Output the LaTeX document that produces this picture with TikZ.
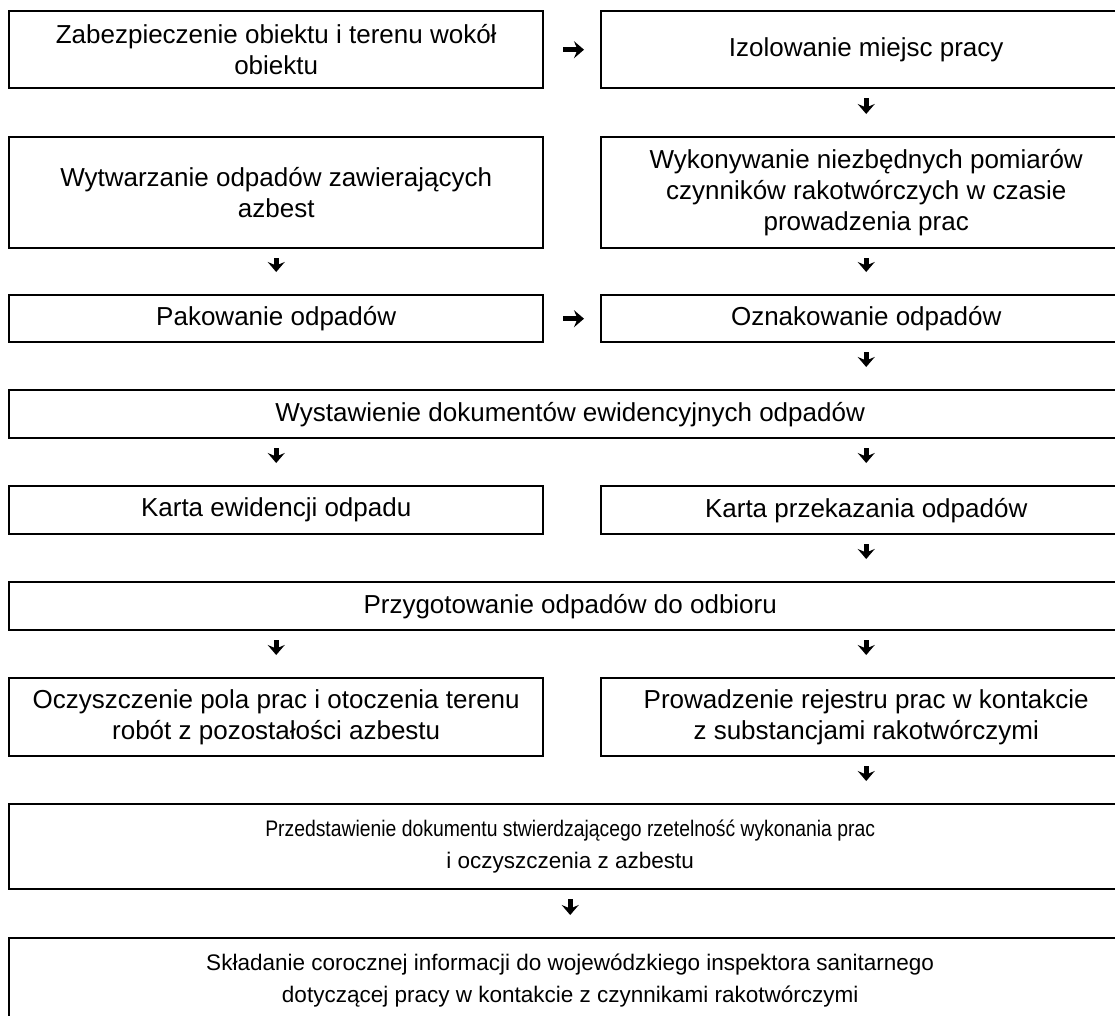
\documentclass[tikz,border=0pt]{standalone}
\usepackage{fontspec}
\usepackage{graphicx}
\setmainfont{Liberation Sans}
\usetikzlibrary{arrows.meta,calc}
\begin{document}
\begin{tikzpicture}[x=1pt,y=-1pt,
  box/.style={draw, line width=2.4pt, inner sep=0pt, align=center, anchor=north west,
    font=\fontsize{26}{31}\selectfont},
  smallbox/.style={box, font=\fontsize{22.5}{32}\selectfont},
  arr/.style={line width=5pt, -{Stealth[length=10pt 0 0,width=17pt 0 0,inset=3.5pt 0]}},
  dn/.style={arr, shorten <=9pt, shorten >=22pt},
  rt/.style={arr, shorten <=19pt, shorten >=16pt}]
\useasboundingbox (0,0) rectangle (1115,1015);
% row 1
\node[box, minimum width=534pt, minimum height=77pt] (b1) at (8,10)
  {Zabezpieczenie obiektu i terenu wokół\\obiektu};
\node[box, minimum width=530pt, minimum height=77pt] (b2) at (600,10)
  {Izolowanie miejsc pracy};
% row 2
\node[box, minimum width=534pt, minimum height=111pt] (b3) at (8,136)
  {Wytwarzanie odpadów zawierających\\azbest};
\node[box, minimum width=530pt, minimum height=111pt] (b4) at (600,136)
  {Wykonywanie niezbędnych pomiarów\\czynników rakotwórczych w czasie\\prowadzenia prac};
% row 3
\node[box, minimum width=534pt, minimum height=47pt] (b5) at (8,294)
  {Pakowanie odpadów};
\node[box, minimum width=530pt, minimum height=47pt] (b6) at (600,294)
  {Oznakowanie odpadów};
% row 4
\node[box, minimum width=1122pt, minimum height=48pt] (b7) at (8,389)
  {Wystawienie dokumentów ewidencyjnych odpadów};
% row 5
\node[box, minimum width=534pt, minimum height=48pt] (b8) at (8,485)
  {Karta ewidencji odpadu};
\node[box, minimum width=530pt, minimum height=48pt] (b9) at (600,485)
  {Karta przekazania odpadów};
% row 6
\node[box, minimum width=1122pt, minimum height=48pt] (b10) at (8,581)
  {Przygotowanie odpadów do odbioru};
% row 7
\node[box, minimum width=534pt, minimum height=78pt] (b11) at (8,677)
  {Oczyszczenie pola prac i otoczenia terenu\\robót z pozostałości azbestu};
\node[box, minimum width=530pt, minimum height=78pt] (b12) at (600,677)
  {Prowadzenie rejestru prac w kontakcie\\z substancjami rakotwórczymi};
% row 8
\node[smallbox, minimum width=1122pt, minimum height=85pt] (b13) at (8,803)
  {\scalebox{0.86}[1]{Przedstawienie dokumentu stwierdzającego rzetelność wykonania prac}\\i oczyszczenia z azbestu};
% row 9 (cut off by the lower edge)
\node[smallbox, minimum width=1122pt, minimum height=84pt] (b14) at (8,937)
  {Składanie corocznej informacji do wojewódzkiego inspektora sanitarnego\\dotyczącej pracy w kontakcie z czynnikami rakotwórczymi};
% arrows
\draw[rt] (b1.east) -- (b2.west);
\draw[rt] (b5.east) -- (b6.west);
\draw[dn] (b2.south) -- (b4.north);
\draw[dn] (b3.south) -- (b5.north);
\draw[dn] (b4.south) -- (b6.north);
\draw[dn] (b6.south) -- (b6.south |- b7.north);
\draw[dn] (b8.north |- b7.south) -- (b8.north);
\draw[dn] (b9.north |- b7.south) -- (b9.north);
\draw[dn] (b9.south) -- (b9.south |- b10.north);
\draw[dn] (b11.north |- b10.south) -- (b11.north);
\draw[dn] (b12.north |- b10.south) -- (b12.north);
\draw[dn] (b12.south) -- (b12.south |- b13.north);
\draw[dn] (b13.south) -- (b14.north);
\end{tikzpicture}
\end{document}
